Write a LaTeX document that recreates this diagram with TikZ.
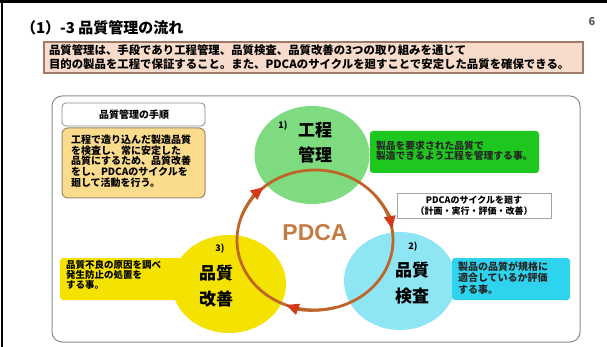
\documentclass[tikz,border=0pt]{standalone}
\usepackage{fontspec}
\setmainfont{Noto Sans CJK JP}
\newfontfamily\pdcafont{Liberation Sans}
\usetikzlibrary{arrows.meta,shapes.geometric}
\definecolor{descfill}{HTML}{F8DCCB}
\definecolor{descline}{HTML}{A07A68}
\definecolor{tanfill}{HTML}{FBDC8C}
\definecolor{tanline}{HTML}{9A8870}
\definecolor{lgreen}{HTML}{7FDB80}
\definecolor{dgreen}{HTML}{1EC71E}
\definecolor{lblue}{HTML}{8EE6F5}
\definecolor{cyanbox}{HTML}{2ED3EE}
\definecolor{yel}{HTML}{F4E300}
\definecolor{ringc}{HTML}{C0652A}
\definecolor{arrowc}{HTML}{D33A1A}
\definecolor{pdcac}{HTML}{C67B45}
\definecolor{framec}{HTML}{8C8C8C}
\newcommand\fsz[2]{\fontsize{#1}{#2}\selectfont}
\begin{document}
\begin{tikzpicture}[x=1pt,y=-1pt,
  every node/.style={inner sep=0pt,outer sep=0pt},
  blob/.style={ellipse,draw=none},
  boxtext/.style={anchor=west,align=left,font=\fsz{10}{10.7}\bfseries},
  big/.style={font=\fsz{17}{17}\bfseries},
  small/.style={font=\fsz{9}{9}\bfseries},
  ringline/.style={draw=ringc,line width=2.8pt},
  ringarrow/.style={draw=ringc,line width=2.8pt,-{Triangle[length=13pt,width=11pt,fill=arrowc,color=arrowc]}}
]
\useasboundingbox (0,0) rectangle (607,347);
\fill[white] (0,0) rectangle (607,347);
\draw[black,line width=3pt] (0,1.5) -- (607,1.5);
\draw[black,line width=2pt] (2,0) -- (2,347);

% title
\node[anchor=west,font=\fsz{15}{15}\bfseries] (title) at (21,28) {（1）-3 品質管理の流れ};
\node[font=\fsz{11}{11}\bfseries,text=black!65] (page) at (592,22) {6};

% description
\node[draw=descline,fill=descfill,line width=1.2pt,anchor=north west,minimum width=539pt,minimum height=31pt] (desc) at (44,42) {};
\node[anchor=west,align=left,font=\fsz{11.4}{14}\bfseries] (desctext) at (49,57.5)
  {品質管理は、手段であり工程管理、品質検査、品質改善の3つの取り組みを通じて\\目的の製品を工程で保証すること。また、PDCAのサイクルを廻すことで安定した品質を確保できる。};

% outer frame
\node[draw=framec,line width=1pt,rounded corners=10pt,anchor=north west,minimum width=528pt,minimum height=246pt] (frame) at (52,96) {};

% left procedure boxes
\node[draw=framec,fill=white,line width=0.8pt,rounded corners=4pt,anchor=north west,minimum width=143pt,minimum height=23pt] (ptitle) at (62,103) {};
\node[font=\fsz{10}{10}\bfseries] (ptitletext) at (134,115) {品質管理の手順};
\node[draw=tanline,fill=tanfill,line width=1pt,rounded corners=6pt,anchor=north west,minimum width=143pt,minimum height=70pt] (tan) at (62,128) {};
\node[boxtext] (tantext) at (71,161) {工程で造り込んだ製造品質\\を検査し、常に安定した\\品質にするため、品質改善\\をし、PDCAのサイクルを\\廻して活動を行う。};

% yellow side box (behind circle)
\node[fill=yel,rounded corners=3pt,anchor=north west,minimum width=135pt,minimum height=42pt] (ybox) at (60,258) {};
\node[anchor=west,align=left,font=\fsz{9.5}{9.8}\bfseries] (ytext) at (66,275) {品質不良の原因を調べ\\発生防止の処置を\\する事。};

% circles
\node[blob,fill=lgreen,minimum width=115pt,minimum height=98pt] (c1) at (312,155) {};
\node[blob,fill=lblue,minimum width=112pt,minimum height=98pt] (c2) at (400,281) {};
\node[blob,fill=yel,minimum width=114pt,minimum height=98pt] (c3) at (229,284) {};

% right boxes
\node[fill=dgreen,rounded corners=3pt,anchor=north west,minimum width=169pt,minimum height=42pt] (gbox) at (370,131) {};
\node[anchor=west,align=left,font=\fsz{9.8}{10.5}\bfseries,text=black!85] (gtext) at (376,150.5) {製品を要求された品質で\\製造できるよう工程を管理する事。};
\node[fill=cyanbox,rounded corners=3pt,anchor=north west,minimum width=118pt,minimum height=42pt] (cbox) at (452,258) {};
\node[anchor=west,align=left,font=\fsz{10}{11.5}\bfseries,text=black!85] (ctext) at (458,278) {製品の品質が規格に\\適合しているか評価\\する事。};

% PDCA label box
\node[draw=framec!80,fill=white,line width=0.8pt,anchor=north west,minimum width=154pt,minimum height=25pt] (pbox) at (397,193) {};
\node[align=center,font=\fsz{9}{10.5}\bfseries] (ptext) at (474,205.5) {PDCAのサイクルを廻す\\（計画・実行・評価・改善）};

% circle labels
\node[small] (n1) at (283,126) {1)};
\node[big] (t1a) at (315,130) {工程};
\node[big] (t1b) at (315,155) {管理};
\node[small] (n2) at (413,247) {2)};
\node[big] (t2a) at (412,270) {品質};
\node[big] (t2b) at (412,296) {検査};
\node[small] (n3) at (220,249) {3)};
\node[big] (t3a) at (216,273) {品質};
\node[big] (t3b) at (216,299) {改善};

% PDCA ring
\node[ellipse,ringline,minimum width=156pt,minimum height=140pt] (ring) at (315,240) {};
\node[font=\fsz{23}{23}\pdcafont\bfseries,text=pdcac] (pdca) at (315,233) {PDCA};
\draw[ringarrow] (ring.center) ++(160:78pt and 70pt) arc[start angle=160,end angle=131,x radius=78pt,y radius=70pt];
\draw[ringarrow] (ring.center) ++(40:78pt and 70pt) arc[start angle=40,end angle=9,x radius=78pt,y radius=70pt];
\draw[ringarrow] (ring.center) ++(285:78pt and 70pt) arc[start angle=285,end angle=248,x radius=78pt,y radius=70pt];
\end{tikzpicture}
\end{document}
